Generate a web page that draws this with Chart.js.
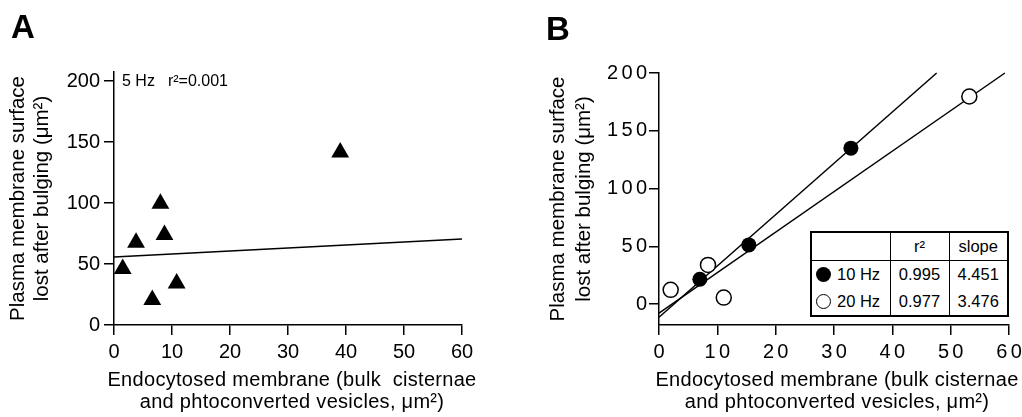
<!DOCTYPE html>
<html>
<head>
<meta charset="utf-8">
<script src="https://cdn.jsdelivr.net/npm/chart.js@4.4.0/dist/chart.umd.min.js"></script>
<style>
  body { margin: 0; background: #fff; }
  #page { position: relative; width: 1022px; height: 417px; overflow: hidden; font-family: "Liberation Sans", Arial, sans-serif; color: #000; }
  canvas { position: absolute; top: 0; }
  #chartA { left: 0; }
  #chartB { left: 511px; }
  .letter { position: absolute; font-weight: bold; font-size: 33px; line-height: 33px; }
  .xtitle { position: absolute; width: 400px; text-align: center; font-size: 20px; line-height: 22px; letter-spacing: 0.3px; white-space: pre; }
  #note5 { position: absolute; left: 122px; top: 73px; font-size: 16px; line-height: 16px; white-space: nowrap; }
  #fits { position: absolute; left: 810px; top: 231px; width: 199px; border-collapse: collapse; table-layout: fixed;
          border: 2px solid #000; background: #fff; font-size: 16.5px; }
  #fits td { height: 27px; padding: 0; text-align: center; border-left: 1.5px solid #000; white-space: nowrap; }
  #fits td:first-child { border-left: none; text-align: left; }
  #fits tr:first-child td { border-bottom: 1.5px solid #000; }
  .dot { display: inline-block; width: 15px; height: 15px; border-radius: 50%; box-sizing: border-box;
         vertical-align: -2px; margin: 0 6px 0 4px; }
  .dot.full { background: #000; }
  .dot.open { border: 1.5px solid #000; background: #fff; }
</style>
</head>
<body>
<div id="page">
  <canvas id="chartA" width="511" height="417"></canvas>
  <canvas id="chartB" width="530" height="417"></canvas>
  <div class="letter" style="left:11px; top:10px;">A</div>
  <div class="letter" style="left:546px; top:12px;">B</div>
  <div id="note5"><span>5 Hz</span><span style="margin-left:13px">r²=0.001</span></div>
  <div class="xtitle" id="xtA" style="left:92px; top:368px;"></div>
  <div class="xtitle" id="xtB" style="left:637px; top:368px;"></div>
  <table id="fits">
    <colgroup><col style="width:79px"><col style="width:59px"><col style="width:59px"></colgroup>
    <tr><td></td><td>r²</td><td>slope</td></tr>
    <tr><td><span class="dot full"></span>10 Hz</td><td>0.995</td><td>4.451</td></tr>
    <tr><td><span class="dot open"></span>20 Hz</td><td>0.977</td><td>3.476</td></tr>
  </table>
</div>
<script>
const xTicks = [0, 10, 20, 30, 40, 50, 60];
const yTicks = [0, 50, 100, 150, 200];

// A: 5 Hz
const hz5X = [1.5, 3.8, 8.0, 8.7, 6.6, 10.8, 39.0];
const hz5Y = [46, 67.5, 99.5, 74, 20.7, 34.2, 141.5];
const fit5X = [0, 60];
const fit5Y = [55.8, 70.5];

// B: 10 Hz and 20 Hz
const hz10X = [7.0, 15.4, 32.9];
const hz10Y = [21.6, 51.3, 135];
const hz20X = [2.0, 8.4, 11.1, 53.2];
const hz20Y = [12.4, 34, 5.7, 179.7];
const fit10X = [0, 47.6];
const fit10Y = [-11.3, 200];
const fit20X = [0, 59.3];
const fit20Y = [-7.8, 200];

const xTitleA = ["Endocytosed membrane (bulk  cisternae", "and phtoconverted vesicles, μm²)"];
const xTitleB = ["Endocytosed membrane (bulk cisternae", "and phtoconverted vesicles, μm²)"];
const yTitle = ["Plasma membrane surface", "lost after bulging (μm²)"];

document.getElementById("xtA").textContent = xTitleA.join("\n");
document.getElementById("xtB").textContent = xTitleB.join("\n");

const pts = (xs, ys) => xs.map((x, i) => ({ x: x, y: ys[i] }));
const FONT = "'Liberation Sans', Arial, sans-serif";

function fitLine(xs, ys) {
  return { data: pts(xs, ys), showLine: true, pointRadius: 0, borderColor: "#000", borderWidth: 1.5, order: 2, clip: false };
}

function makeScale(o) {
  const s = {
    type: "linear",
    min: o.min,
    max: o.max,
    afterBuildTicks: (sc) => { sc.ticks = o.ticks.map((v) => ({ value: v })); },
    afterFit: o.fit,
    grid: { drawOnChartArea: false, drawTicks: true, tickLength: 10, color: "#000", lineWidth: 1.5 },
    border: { display: true, color: "#000", width: 1.5 },
    ticks: { color: "#000", padding: o.pad, font: { family: FONT, size: 20 }, callback: o.label || ((v) => String(v)) },
    title: { display: false },
  };
  if (o.title) {
    s.title = { display: true, text: o.title, color: "#000", padding: o.titlePad, font: { family: FONT, size: 20.5, lineHeight: o.lh || 1.15 } };
  }
  return s;
}

const common = {
  responsive: false,
  animation: false,
  events: [],
  plugins: { legend: { display: false }, tooltip: { enabled: false } },
};

new Chart(document.getElementById("chartA"), {
  type: "scatter",
  data: {
    datasets: [
      { data: pts(hz5X, hz5Y), pointStyle: "triangle", pointRadius: 10.3, backgroundColor: "#000", borderColor: "#000", borderWidth: 0, order: 1, clip: false },
      fitLine(fit5X, fit5Y),
    ],
  },
  options: Object.assign({}, common, {
    layout: { padding: { left: 0, right: 49, top: 72, bottom: 0 } },
    scales: {
      x: makeScale({ min: 0, max: 60, ticks: xTicks, pad: 5, fit: (s) => { s.height = 92; } }),
      y: makeScale({ min: 0, max: 207.4, ticks: yTicks, pad: 4, title: yTitle, titlePad: { top: 7 }, fit: (s) => { s.width = 114; } }),
    },
  }),
});

// panel B's tick digits are set a little apart
const spaced = (v) => String(v).split("").join("\u2006");

new Chart(document.getElementById("chartB"), {
  type: "scatter",
  data: {
    datasets: [
      { data: pts(hz10X, hz10Y), pointStyle: "circle", pointRadius: 7.5, backgroundColor: "#000", borderColor: "#000", borderWidth: 0, order: 1, clip: false },
      { data: pts(hz20X, hz20Y), pointStyle: "circle", pointRadius: 7.5, backgroundColor: "#fff", borderColor: "#000", borderWidth: 1.5, order: 0, clip: false },
      fitLine(fit10X, fit10Y),
      fitLine(fit20X, fit20Y),
    ],
  },
  options: Object.assign({}, common, {
    layout: { padding: { left: 0, right: 32, top: 73, bottom: 0 } },
    scales: {
      x: makeScale({ min: 0, max: 60, ticks: xTicks, pad: 5, label: spaced, fit: (s) => { s.height = 92; } }),
      y: makeScale({ min: -18, max: 200, ticks: yTicks, pad: 2, label: spaced, title: yTitle, titlePad: { top: 35 }, lh: 1.25, fit: (s) => { s.width = 148; } }),
    },
  }),
});
</script>
</body>
</html>
